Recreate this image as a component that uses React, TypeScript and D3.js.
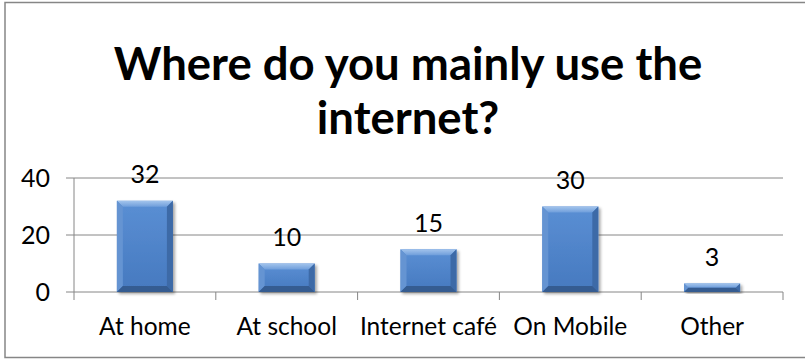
import { useMemo } from "react";
import * as d3 from "d3";

// Chart data
const categories = ["At home", "At school", "Internet café", "On Mobile", "Other"];
const values = [32, 10, 15, 30, 3];
const yTicks = [0, 20, 40];
const titleLines = ["Where do you mainly use the", "internet?"];

const width = 805;
const height = 359;
const margin = { top: 178, right: 22, bottom: 67, left: 74 };
const font = "Lato, 'Open Sans', sans-serif";
const gray = "#868686";

export default function App() {
  const x = useMemo(
    () =>
      d3.scaleBand<string>()
        .domain(categories)
        .range([margin.left, width - margin.right])
        .paddingInner(0)
        .paddingOuter(0),
    []
  );

  const y = useMemo(
    () => d3.scaleLinear().domain([0, 40]).range([height - margin.bottom, margin.top]),
    []
  );

  const barW = x.bandwidth() * 0.395;
  const bev = 6;
  const y0 = y(0);

  return (
    <svg
      width={width}
      height={height}
      style={{ position: "absolute", left: 0, top: 0, background: "#fff" }}
    >
      <defs>
        <linearGradient id="face" x1="0" x2="0" y1="0" y2="1">
          <stop offset="0%" stopColor="#5a8fd4" />
          <stop offset="100%" stopColor="#4679bf" />
        </linearGradient>
        <linearGradient id="topBev" x1="0" x2="0" y1="0" y2="1">
          <stop offset="0%" stopColor="#a3c4ec" />
          <stop offset="100%" stopColor="#6f9edb" />
        </linearGradient>
        <filter id="shadow" x="-20%" y="-20%" width="140%" height="140%">
          <feGaussianBlur in="SourceAlpha" stdDeviation="1.5" />
          <feOffset dx="1.5" dy="1.5" result="b" />
          <feComponentTransfer>
            <feFuncA type="linear" slope="0.35" />
          </feComponentTransfer>
          <feMerge>
            <feMergeNode />
            <feMergeNode in="SourceGraphic" />
          </feMerge>
        </filter>
      </defs>

      {/* chart frame */}
      <rect x={5} y={2.5} width={810} height={355} fill="#fff" stroke={gray} strokeWidth={1.5} />

      {/* title */}
      <text
        x={408}
        textAnchor="middle"
        fontFamily={font}
        fontWeight="bold"
        fontSize={45.5}
        fill="#000"
      >
        {titleLines.map((t, i) => (
          <tspan key={i} x={408} y={80 + i * 54}>
            {t}
          </tspan>
        ))}
      </text>

      {/* gridlines + y ticks */}
      {yTicks.map((t) => (
        <g key={t}>
          <line
            x1={margin.left - 8}
            x2={width - margin.right}
            y1={y(t)}
            y2={y(t)}
            stroke={gray}
            strokeWidth={1}
          />
          <text
            x={50}
            y={y(t)}
            dy="0.36em"
            textAnchor="end"
            fontFamily={font}
            fontSize={25}
            fill="#000"
          >
            {t}
          </text>
        </g>
      ))}

      {/* y axis */}
      <line x1={margin.left} x2={margin.left} y1={y(40)} y2={y0 + 8} stroke={gray} />

      {/* category ticks */}
      {categories.map((c) => (
        <line
          key={c}
          x1={x(c)! + x.bandwidth()}
          x2={x(c)! + x.bandwidth()}
          y1={y0}
          y2={y0 + 8}
          stroke={gray}
        />
      ))}

      {/* bars */}
      {categories.map((c, i) => {
        const v = values[i];
        const bx = x(c)! + (x.bandwidth() - barW) / 2;
        const by = y(v);
        const bh = y0 - by;
        const b = Math.min(bev, bh / 2);
        const r = bx + barW;
        return (
          <g key={c} filter="url(#shadow)">
            <rect x={bx} y={by} width={barW} height={bh} fill="url(#face)" />
            <polygon
              points={`${bx},${by} ${r},${by} ${r - b},${by + b} ${bx + b},${by + b}`}
              fill="url(#topBev)"
            />
            <polygon
              points={`${bx},${by} ${bx + b},${by + b} ${bx + b},${y0 - b} ${bx},${y0}`}
              fill="#6594d2"
            />
            <polygon
              points={`${r},${by} ${r - b},${by + b} ${r - b},${y0 - b} ${r},${y0}`}
              fill="#3d6aa7"
            />
            <polygon
              points={`${bx},${y0} ${bx + b},${y0 - b} ${r - b},${y0 - b} ${r},${y0}`}
              fill="#345b91"
            />
          </g>
        );
      })}

      {/* value labels */}
      {categories.map((c, i) => (
        <text
          key={c}
          x={x(c)! + x.bandwidth() / 2}
          y={y(values[i]) - 17.5}
          textAnchor="middle"
          fontFamily={font}
          fontSize={25}
          fill="#000"
        >
          {values[i]}
        </text>
      ))}

      {/* category labels */}
      {categories.map((c) => (
        <text
          key={c}
          x={x(c)! + x.bandwidth() / 2}
          y={335}
          textAnchor="middle"
          fontFamily={font}
          fontSize={24.5}
          fill="#000"
        >
          {c}
        </text>
      ))}
    </svg>
  );
}
